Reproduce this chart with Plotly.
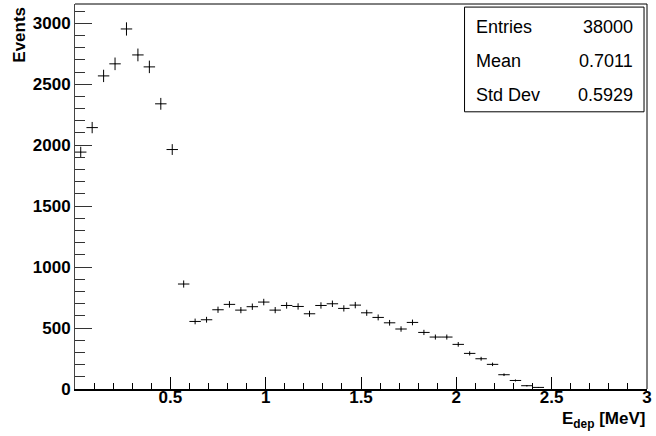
import numpy as np
import plotly.graph_objects as go

# Histogram: 50 bins from 0 to 3 MeV
bin_low = 0.0
bin_high = 3.0
n_bins = 50
counts = [1943, 2144, 2568, 2667, 2953, 2740, 2642, 2339, 1964, 861,
          554, 568, 650, 694, 647, 675, 713, 647, 685, 677,
          617, 685, 699, 661, 688, 625, 587, 543, 492, 546,
          464, 426, 426, 366, 292, 248, 202, 117, 70, 27,
          13, 0, 0, 0, 0, 0, 0, 0, 0, 0]
x_tick_vals = [0.5, 1.0, 1.5, 2.0, 2.5, 3.0]
x_tick_text = ["0.5", "1", "1.5", "2", "2.5", "3"]
y_tick_vals = [0, 500, 1000, 1500, 2000, 2500, 3000]
y_tick_text = ["0", "500", "1000", "1500", "2000", "2500", "3000"]
stats_labels = ["Entries", "Mean", "Std Dev"]
stats_values = ["38000", "0.7011", "0.5929"]
x_title = "<b>E<sub>dep</sub> [MeV]</b>"
y_title = "<b>Events</b>"

edges = np.linspace(bin_low, bin_high, n_bins + 1)
centers = 0.5 * (edges[:-1] + edges[1:])
half_w = 0.5 * (edges[1] - edges[0])
cnt = np.array(counts, dtype=float)
mask = cnt > 0
xs = centers[mask]
ys = cnt[mask]
ey = np.sqrt(ys)
ex = np.full_like(xs, half_w)

font_family = "Liberation Sans, Arial, Helvetica, sans-serif"

fig = go.Figure()
fig.add_trace(go.Scatter(
    x=xs, y=ys, mode="markers",
    marker=dict(size=1, color="black"),
    error_y=dict(type="data", array=ey, visible=True, width=0, thickness=1, color="black"),
    error_x=dict(type="data", array=ex, visible=True, width=0, thickness=1, color="black"),
    hoverinfo="skip", showlegend=False,
))

ymax = (ys.max() + np.sqrt(ys.max())) * 1.05

fig.update_layout(
    width=656, height=436,
    margin=dict(l=75, r=4, t=4, b=47),
    paper_bgcolor="white", plot_bgcolor="white",
    font=dict(family=font_family, color="black"),
    showlegend=False,
    xaxis=dict(
        range=[bin_low, bin_high], tickmode="array",
        tickvals=x_tick_vals, ticktext=x_tick_text,
        ticks="inside", ticklen=12, tickwidth=1, tickcolor="black",
        minor=dict(tickmode="linear", ticks="inside", ticklen=6, dtick=0.1, tick0=0,
                   tickcolor="black", tickwidth=1),
        showgrid=False, zeroline=False,
        showline=True, linewidth=2, linecolor="black",
        tickfont=dict(size=17, family=font_family, weight="bold"),
        ticklabeloverflow="allow",
        ticklabelstandoff=-8,
    ),
    yaxis=dict(
        range=[0, ymax], tickmode="array",
        tickvals=y_tick_vals, ticktext=y_tick_text,
        ticks="inside", ticklen=17, tickwidth=1, tickcolor="#333",
        minor=dict(tickmode="linear", ticks="inside", ticklen=10, dtick=100, tick0=0,
                   tickcolor="#333", tickwidth=1),
        showgrid=False, zeroline=False,
        showline=True, linewidth=1, linecolor="#444",
        tickfont=dict(size=17, family=font_family, weight="bold"),
        ticklabeloverflow="allow",
    ),
)

# frame top and right
fig.add_shape(type="line", xref="paper", yref="paper", x0=0, x1=1, y0=1, y1=1,
              line=dict(color="black", width=1))
fig.add_shape(type="line", xref="paper", yref="paper", x0=1, x1=1, y0=0, y1=1,
              line=dict(color="black", width=1))

# stats box
fig.add_shape(type="rect", xref="paper", yref="paper",
              x0=0.681, x1=0.9948, y0=0.720, y1=0.992,
              line=dict(color="black", width=1), fillcolor="white", layer="above")
row_y = [0.940, 0.851, 0.763]
for lab, val, yy in zip(stats_labels, stats_values, row_y):
    fig.add_annotation(text=lab, xref="paper", yref="paper", x=0.698, y=yy,
                       xanchor="left", yanchor="middle", showarrow=False,
                       font=dict(size=18, family=font_family, color="black"))
    fig.add_annotation(text=val, xref="paper", yref="paper", x=0.979, y=yy,
                       xanchor="right", yanchor="middle", showarrow=False,
                       font=dict(size=18, family=font_family, color="black"))

# axis titles
fig.add_annotation(text=y_title, xref="paper", yref="paper", x=-0.097, y=0.997,
                   xanchor="center", yanchor="top", textangle=-90, showarrow=False,
                   font=dict(size=17, family=font_family, color="black"))
fig.add_annotation(text=x_title, xref="paper", yref="paper", x=1.0, y=-0.08,
                   xanchor="right", yanchor="middle", showarrow=False,
                   font=dict(size=17, family=font_family, color="black"))

fig.write_html("out.html")
